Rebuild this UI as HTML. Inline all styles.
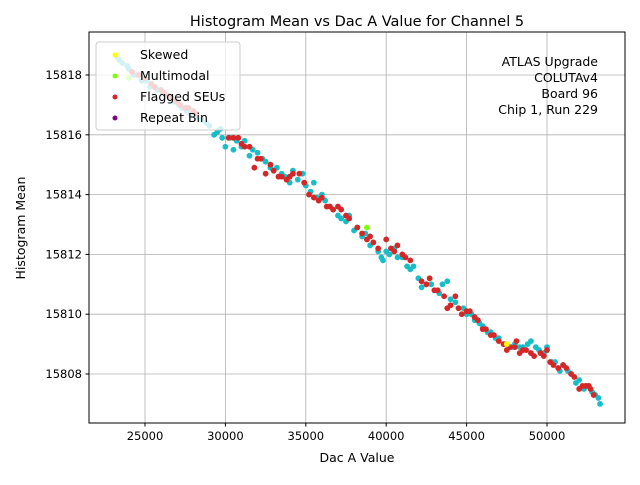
<!DOCTYPE html>
<html><head><meta charset="utf-8"><style>
body{margin:0;background:#fff;font-family:"Liberation Sans","DejaVu Sans",sans-serif}
svg text{font-family:"DejaVu Sans","Liberation Sans",sans-serif}
</style></head><body>
<svg id="chart" width="640" height="480" xmlns="http://www.w3.org/2000/svg">
<rect width="640" height="480" fill="#fff"/>
<g id="grid"></g>
<g id="pts"></g>
<rect x="89" y="32" width="536" height="391" fill="none" stroke="#000" stroke-width="1"/>
<g id="ticks"></g>
<text x="357" y="26" font-size="14.5" text-anchor="middle">Histogram Mean vs Dac A Value for Channel 5</text>
<text x="357" y="462" font-size="12.5" text-anchor="middle">Dac A Value</text>
<text transform="translate(25,228) rotate(-90)" font-size="12.5" text-anchor="middle">Histogram Mean</text>
<g font-size="12.5" text-anchor="end">
<text x="598" y="66">ATLAS Upgrade</text>
<text x="598" y="82">COLUTAv4</text>
<text x="598" y="98">Board 96</text>
<text x="598" y="114">Chip 1, Run 229</text>
</g>
<g>
<rect x="96" y="42" width="144" height="88" rx="3" fill="rgba(255,255,255,0.8)" stroke="#ccc"/>
<circle cx="115" cy="55" r="2.5" fill="#ffff00"/><text x="140" y="59" font-size="12.5">Skewed</text>
<circle cx="115" cy="76" r="2.5" fill="#7fff00"/><text x="140" y="80" font-size="12.5">Multimodal</text>
<circle cx="115" cy="97" r="2.5" fill="#d62728"/><text x="140" y="101" font-size="12.5">Flagged SEUs</text>
<circle cx="115" cy="118" r="2.5" fill="#800080"/><text x="140" y="122" font-size="12.5">Repeat Bin</text>
</g>
</svg>
<script>
const xTicks=[25000,30000,35000,40000,45000,50000];
const yTicks=[15808,15810,15812,15814,15816,15818];
const cyanX=[23300,23600,24000,24500,24800,25300,25800,26300,26800,27300,27800,28500,29000,29500,29800,30000,30500,31000,31500,32000,32500,33000,33500,34000,34500,35000,35300,35500,36000,36500,37000,37500,38000,38500,39000,39500,39800,40200,40500,41000,41300,41700,42000,42500,43000,43500,44000,44500,45000,45500,46000,46500,47000,47500,48000,48500,49000,49500,50000,50500,51000,51500,52000,52500,53000,53300,
23400,23900,24300,25100,25600,26100,26600,27100,27600,28200,28800,29300,29700,30300,30700,31200,31700,32300,32800,33200,33700,34200,34800,35700,36200,36700,37200,37700,38200,38700,39200,39700,40000,40700,41500,42200,42800,43300,43800,44300,44800,45300,45800,46300,46800,47300,47800,48300,48800,49300,49800,50300,50800,51300,51800,52300,52800,53200];
const cyanY=[15818.6,15818.4,15818.2,15818.0,15817.8,15817.6,15817.5,15817.3,15817.1,15816.9,15816.7,15816.5,15816.3,15816.1,15815.9,15815.6,15815.5,15815.6,15815.3,15815.4,15815.1,15814.8,15814.7,15814.4,15814.5,15814.3,15814.1,15814.4,15814.0,15813.6,15813.3,15813.1,15812.8,15812.6,15812.3,15812.1,15811.8,15812.0,15812.2,15811.9,15811.6,15811.6,15811.2,15811.0,15810.8,15811.0,15810.5,15810.2,15810.0,15809.8,15809.6,15809.4,15809.2,15809.0,15809.0,15808.9,15809.1,15808.8,15808.9,15808.4,15808.3,15808.0,15807.8,15807.6,15807.3,15807.0,
15818.5,15818.3,15818.0,15817.8,15817.6,15817.4,15817.2,15817.0,15816.8,15816.6,15816.4,15816.0,15816.2,15815.9,15815.8,15815.8,15815.5,15815.2,15814.9,15814.9,15814.6,15814.8,15814.7,15813.9,15813.8,15813.5,15813.2,15813.3,15812.9,15812.7,15812.4,15811.9,15812.1,15811.9,15811.5,15810.9,15811.0,15810.7,15811.1,15810.4,15810.2,15810.0,15809.7,15809.4,15809.2,15809.0,15808.9,15808.9,15809.0,15808.9,15808.7,15808.4,15808.1,15808.1,15807.7,15807.5,15807.4,15807.2];
const redX=[24200,25000,25600,26200,26700,27200,27700,28200,30200,30800,31000,31500,31800,32200,32500,32800,33300,33800,34200,34600,34900,35500,36000,36300,36700,37200,37700,38200,38800,39200,40000,40300,40700,41000,41500,42200,42700,43200,43600,44000,44300,44700,45200,45700,46200,46700,47300,47700,48100,48300,48700,49200,49600,50000,50400,50700,51200,51700,52000,52400,52700,52900,
24600,25400,26000,26500,27000,27500,28000,30500,31200,32000,33000,33500,34000,35200,35800,36500,37000,37500,38500,39000,39500,40500,41200,42500,43000,43800,44500,45000,45500,46000,46500,47000,47500,48000,48500,49000,49800,50200,51000,51500,52200,52600];
const redY=[15818.1,15817.9,15817.6,15817.4,15817.2,15817.0,15816.9,15816.7,15815.9,15815.9,15815.7,15815.6,15814.9,15815.2,15814.7,15815.0,15814.6,15814.5,15814.7,15814.7,15814.4,15813.9,15813.9,15813.6,15813.5,15813.5,15813.2,15812.9,15812.5,15812.4,15812.5,15812.2,15812.3,15812.0,15811.8,15811.1,15811.2,15810.8,15810.6,15810.3,15810.6,15810.0,15810.1,15809.8,15809.5,15809.3,15809.0,15808.9,15809.1,15808.7,15808.8,15808.6,15808.7,15808.8,15808.3,15808.2,15808.2,15807.9,15807.5,15807.6,15807.5,15807.3,
15818.0,15817.7,15817.5,15817.3,15817.1,15816.9,15816.8,15815.9,15815.6,15815.2,15814.8,15814.6,15814.6,15814.0,15813.8,15813.6,15813.6,15813.3,15812.7,15812.6,15812.2,15812.1,15811.9,15811.0,15810.8,15810.2,15810.2,15810.1,15809.9,15809.5,15809.3,15809.1,15808.8,15808.9,15808.8,15808.7,15808.6,15808.4,15808.3,15808.0,15807.6,15807.6];
const skewX=[23300,47500], skewY=[15818.7,15809.0];
const multiX=[38800,24000], multiY=[15812.9,15817.9];
const NS='http://www.w3.org/2000/svg';
const sx=v=>145+(v-25000)*0.01608;
const sy=v=>75+(15818-v)*29.9;
function mk(tag,attrs,parent){const e=document.createElementNS(NS,tag);for(const k in attrs)e.setAttribute(k,attrs[k]);parent.appendChild(e);return e;}
const grid=document.getElementById('grid'),ticks=document.getElementById('ticks'),pts=document.getElementById('pts');
xTicks.forEach(t=>{const x=sx(t);
 const g=mk('line',{x1:x,x2:x,y1:32,y2:423,stroke:'#b0b0b0','stroke-width':0.8},grid);
 
 
 mk('line',{x1:x,x2:x,y1:423,y2:426.5,stroke:'#000'},ticks);
 const l=mk('text',{x:x,y:440,'font-size':11.5,'text-anchor':'middle'},ticks);l.textContent=t;
 
 });
yTicks.forEach(t=>{const y=sy(t);
 const g=mk('line',{x1:89,x2:625,y1:y,y2:y,stroke:'#b0b0b0','stroke-width':0.8},grid);
 
 
 mk('line',{x1:85.5,x2:89,y1:y,y2:y,stroke:'#000'},ticks);
 const l=mk('text',{x:82,y:y+4,'font-size':11.5,'text-anchor':'end'},ticks);l.textContent=t;
 
 });
function draw(xs,ys,col,name){xs.forEach((v,i)=>{const c=mk('circle',{cx:sx(v),cy:sy(ys[i]),r:2.9,fill:col},pts);
 
 });}
draw(cyanX,cyanY,'#17bec8','point-normal');
draw(redX,redY,'#d62728','point-flagged-seu');
draw(skewX,skewY,'#ffff00','point-skewed');
draw(multiX,multiY,'#7fff00','point-multimodal');
</script>
</body></html>
